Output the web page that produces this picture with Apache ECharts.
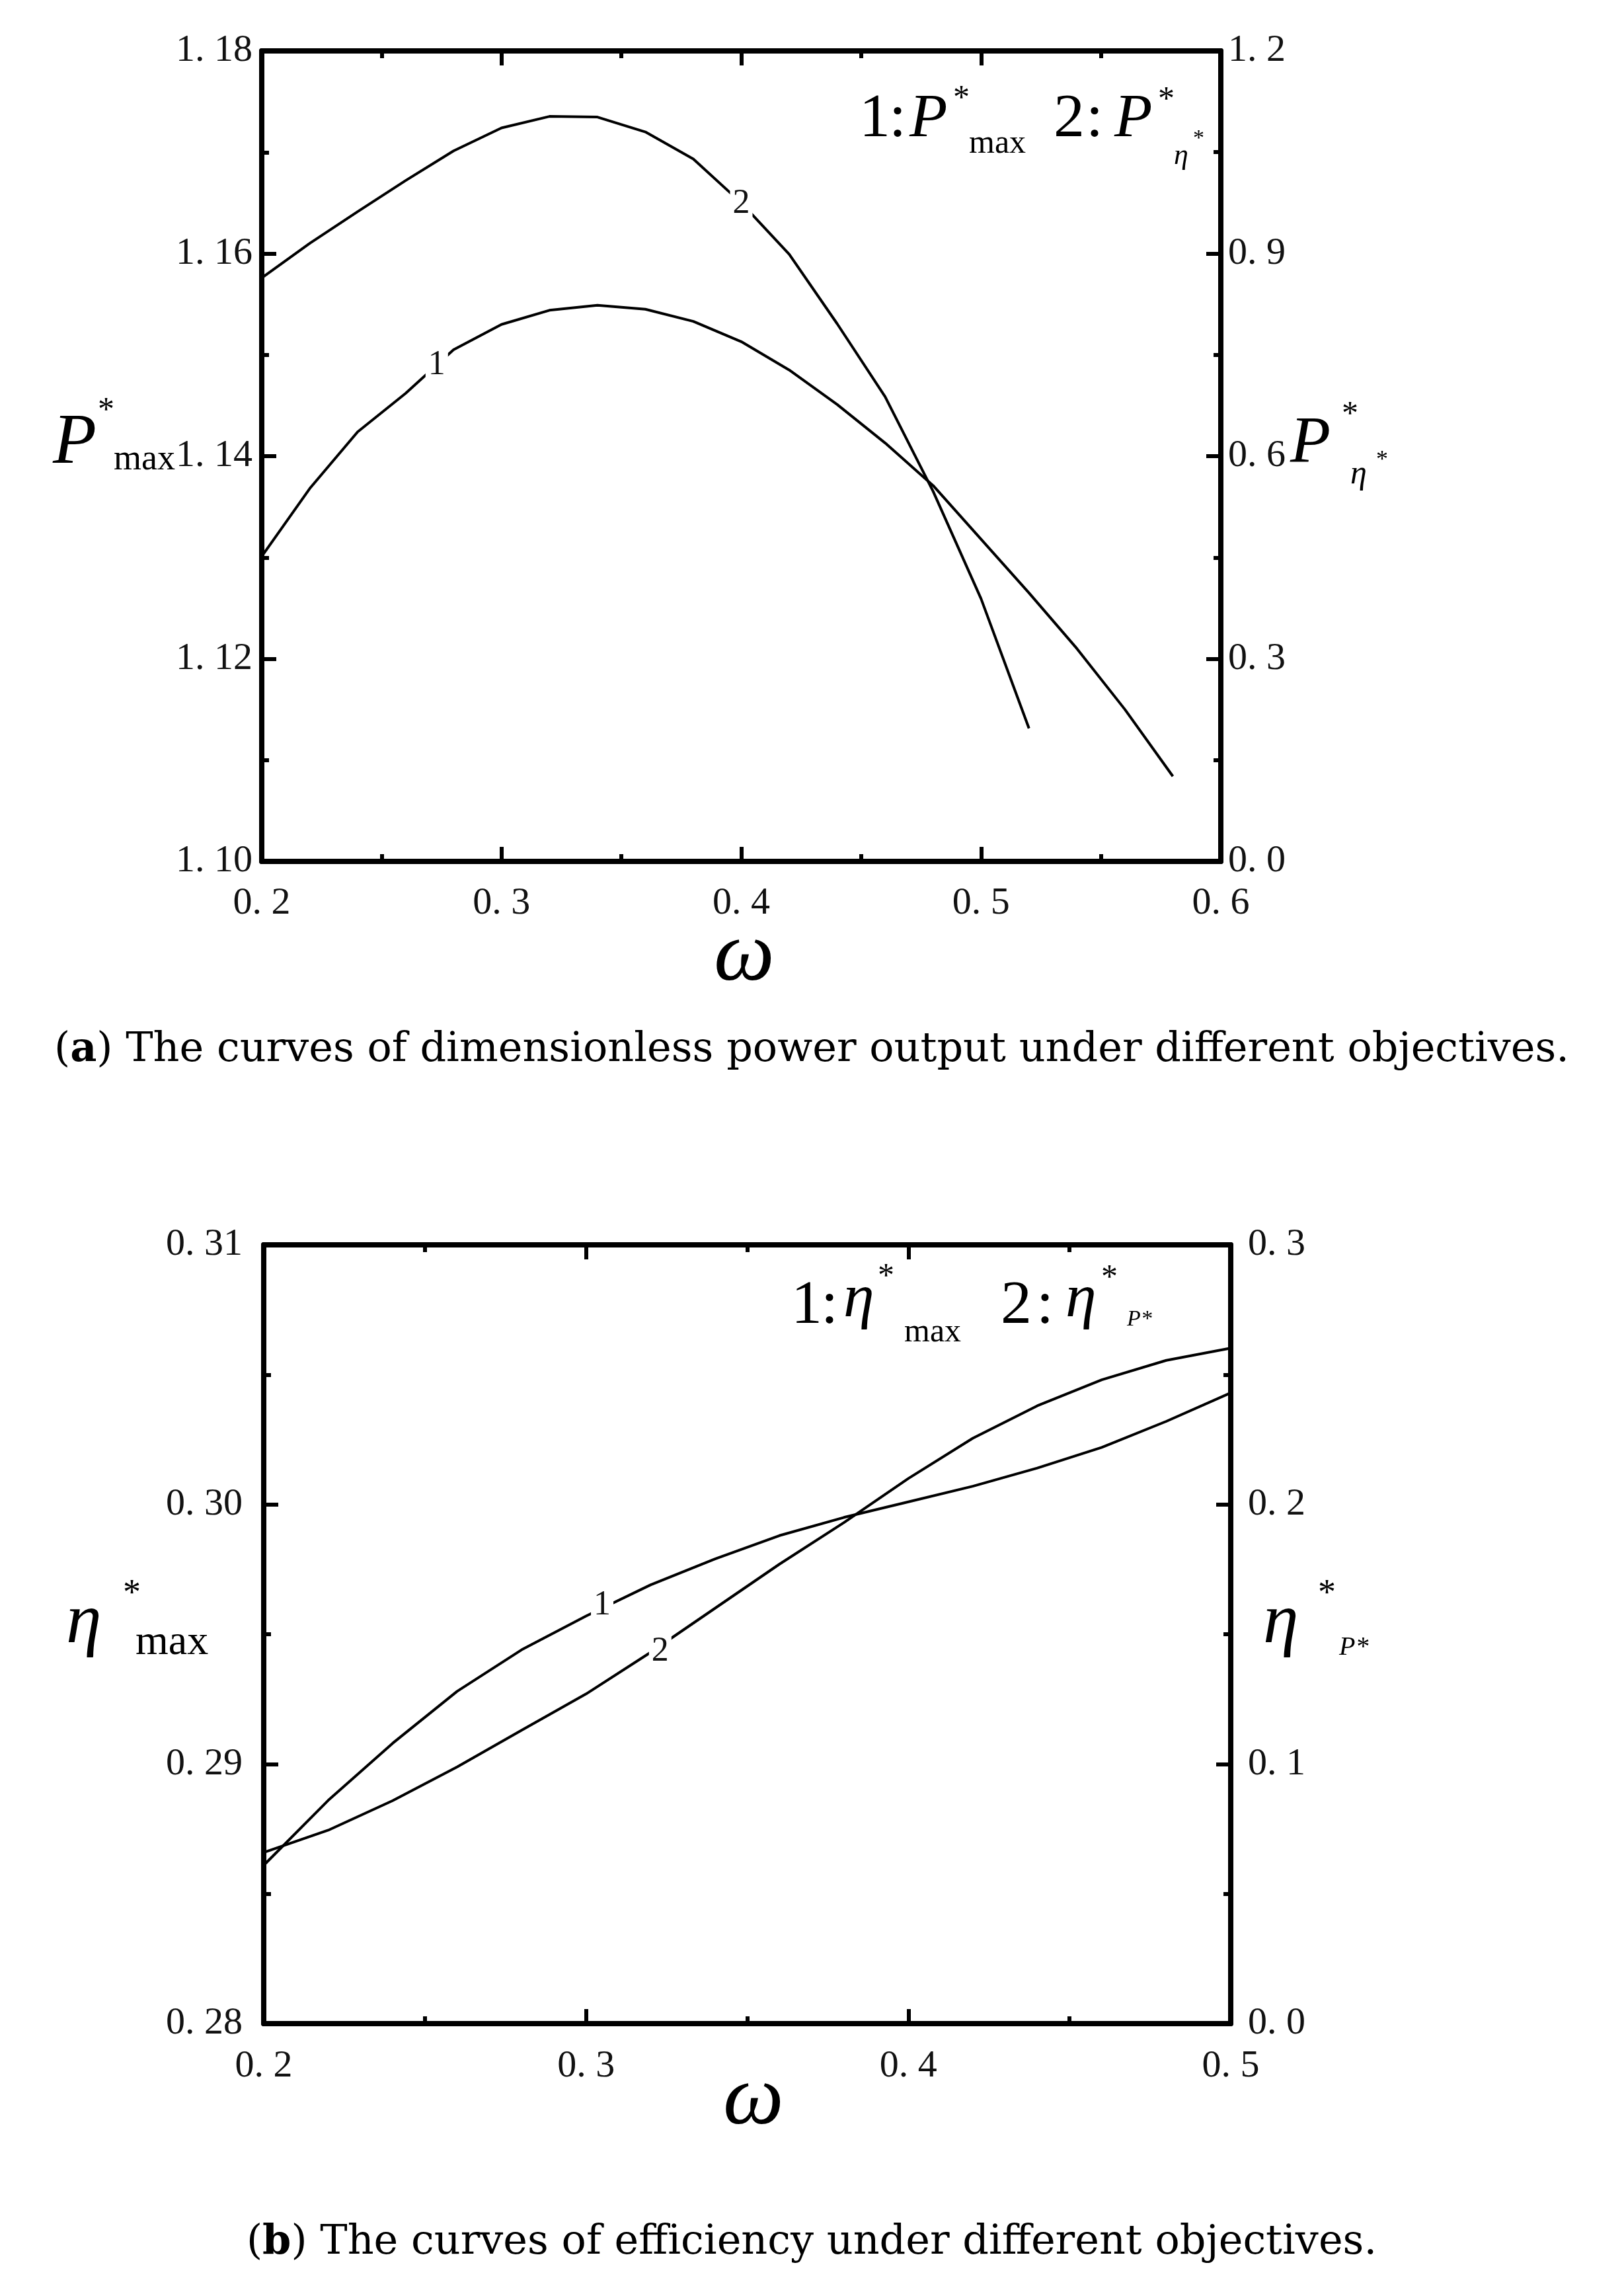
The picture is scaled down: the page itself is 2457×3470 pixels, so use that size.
<!DOCTYPE html>
<html>
<head>
<meta charset="utf-8">
<script src="https://cdn.jsdelivr.net/npm/echarts@6/dist/echarts.min.js"></script>
<style>
  html, body { margin: 0; padding: 0; background: #fff; }
  #main { width: 2457px; height: 3470px; }
</style>
</head>
<body>
<div id="main"></div>
<script>
// ---- data ----
// (a) dimensionless power output
var omegaA1 = [0.20, 0.22, 0.24, 0.26, 0.28, 0.30, 0.32, 0.34, 0.36, 0.38, 0.40, 0.42, 0.44, 0.46, 0.48, 0.50, 0.52, 0.54, 0.56, 0.58];
var pMax = [1.1301, 1.1368, 1.1424, 1.1462, 1.1505, 1.1530, 1.1544, 1.1549, 1.1545, 1.1533, 1.1513, 1.1485, 1.1451, 1.1413, 1.1371, 1.1318, 1.1265, 1.1210, 1.1150, 1.1084];
var omegaA2 = [0.20, 0.22, 0.24, 0.26, 0.28, 0.30, 0.32, 0.34, 0.36, 0.38, 0.40, 0.42, 0.44, 0.46, 0.48, 0.50, 0.52];
var pEta = [0.864, 0.915, 0.962, 1.008, 1.052, 1.086, 1.103, 1.102, 1.080, 1.040, 0.975, 0.899, 0.796, 0.688, 0.548, 0.389, 0.197];

// (b) efficiency
var omegaB = [0.20, 0.22, 0.24, 0.26, 0.28, 0.30, 0.32, 0.34, 0.36, 0.38, 0.40, 0.42, 0.44, 0.46, 0.48, 0.50];
var etaMax = [0.2861, 0.2886, 0.2908, 0.2928, 0.2944, 0.2957, 0.2969, 0.2979, 0.2988, 0.2995, 0.3001, 0.3007, 0.3014, 0.3022, 0.3032, 0.3043];
var etaP = [0.0659, 0.0745, 0.0859, 0.0989, 0.1130, 0.1270, 0.1430, 0.1600, 0.1770, 0.1930, 0.2100, 0.2255, 0.2380, 0.2480, 0.2555, 0.2602];

// curve number labels [x, y]
var labelA1 = [0.273, 1.149];
var labelA2 = [0.400, 0.974];
var labelB1 = [0.305, 0.2961];
var labelB2 = [0.323, 0.1434];

var SERIF = '"Liberation Serif", "DejaVu Serif", serif';
var CAPTION = '"DejaVu Serif", "Liberation Serif", serif';

function zip(xs, ys) {
    return xs.map(function (x, i) { return [x, ys[i]]; });
}

function fmt(digits) {
    return function (v) { return v.toFixed(digits).replace('.', '. '); };
}

function xAxisCfg(grid, min, max, pos, showLabel, margin) {
    return {
        type: 'value', gridIndex: grid, position: pos, min: min, max: max, interval: 0.1,
        axisLine: { show: true, onZero: false, lineStyle: { color: '#000', width: 8 } },
        axisTick: { show: true, inside: true, length: 22, lineStyle: { color: '#000', width: 6 } },
        minorTick: { show: true, splitNumber: 2, length: 11, lineStyle: { color: '#000', width: 6 } },
        axisLabel: { show: showLabel, formatter: fmt(1), fontFamily: SERIF, fontSize: 58, color: '#111', margin: margin },
        splitLine: { show: false }
    };
}

function yAxisCfg(grid, min, max, interval, pos, digits, margin, pad) {
    return {
        type: 'value', gridIndex: grid, position: pos, min: min, max: max, interval: interval,
        axisLine: { show: true, onZero: false, lineStyle: { color: '#000', width: 8 } },
        axisTick: { show: true, inside: true, length: 22, lineStyle: { color: '#000', width: 6 } },
        minorTick: { show: true, splitNumber: 2, length: 11, lineStyle: { color: '#000', width: 6 } },
        axisLabel: { formatter: fmt(digits), fontFamily: SERIF, fontSize: 58, color: '#111', margin: margin, padding: pad },
        splitLine: { show: false }
    };
}

function curveLabel(txt, coord) {
    return {
        symbol: 'rect', symbolSize: 0, silent: true,
        label: { show: true, position: 'inside', formatter: txt, fontFamily: SERIF, fontSize: 52, color: '#111', backgroundColor: '#fff', padding: [2, 4] },
        data: [{ coord: coord }]
    };
}

function lineSeries(xi, yi, data, mark) {
    return {
        type: 'line', xAxisIndex: xi, yAxisIndex: yi, data: data,
        showSymbol: false, smooth: false, animation: false,
        lineStyle: { color: '#000', width: 4 },
        markPoint: mark
    };
}

// text piece: left x, vertical middle y
function t(str, x, y, size, italic, extra) {
    var st = { text: str, x: x, y: y, font: (italic ? 'italic ' : '') + size + 'px ' + SERIF, fill: '#000', align: 'left', verticalAlign: 'middle' };
    if (extra) for (var k in extra) st[k] = extra[k];
    return { type: 'text', silent: true, style: st };
}

function caption(letter, rest, y) {
    return {
        type: 'text', silent: true,
        style: {
            text: '({b|' + letter + '}) ' + rest, x: 1228, y: y, align: 'center', verticalAlign: 'middle',
            font: '62px ' + CAPTION, fill: '#000',
            rich: { b: { fontWeight: 'bold', fontSize: 62, fontFamily: CAPTION } }
        }
    };
}

var texts = [
    // (a) legend
    t('1', 1300, 181, 94), t(':', 1345, 181, 94), t('P', 1376, 181, 94, true), t('*', 1442, 150, 50), t('max', 1466, 218, 50),
    t('2', 1594, 181, 94), t(':', 1643, 181, 94), t('P', 1686, 181, 94, true), t('*', 1752, 152, 50), t('η', 1776, 236, 44, true), t('*', 1805, 210, 34),
    // (a) axis titles
    t('P', 80, 672, 108, true), t('*', 148, 622, 50), t('max', 172, 696, 54),
    t('P', 1952, 672, 100, true), t('*', 2030, 628, 50), t('η', 2043, 718, 50, true), t('*', 2082, 697, 36),
    t('ω', 1126, 1448, 130, true, { align: 'center' }),
    caption('a', 'The curves of dimensionless power output under different objectives.', 1589),

    // (b) legend
    t('1', 1197, 1976, 94), t(':', 1242, 1976, 94), t('η', 1276, 1966, 94, true), t('*', 1328, 1932, 50), t('max', 1368, 2016, 50),
    t('2', 1514, 1976, 94), t(':', 1568, 1976, 94), t('η', 1612, 1966, 94, true), t('*', 1666, 1934, 50), t('P*', 1705, 1996, 34, true),
    // (b) axis titles
    t('η', 100, 2456, 108, true), t('*', 186, 2412, 54), t('max', 205, 2485, 64),
    t('η', 1911, 2456, 108, true), t('*', 1994, 2412, 54), t('P*', 2026, 2492, 40, true),
    t('ω', 1140, 3178, 130, true, { align: 'center' }),
    caption('b', 'The curves of efficiency under different objectives.', 3393)
];

var chart = echarts.init(document.getElementById('main'), null, { renderer: 'canvas' });

var option = {
    backgroundColor: '#fff',
    animation: false,
    grid: [
        { left: 396, top: 77, width: 1451, height: 1226 },
        { left: 399, top: 1883, width: 1463, height: 1178 }
    ],
    xAxis: [
        xAxisCfg(0, 0.2, 0.6, 'bottom', true, 35),
        xAxisCfg(0, 0.2, 0.6, 'top', false, 10),
        xAxisCfg(1, 0.2, 0.5, 'bottom', true, 36),
        xAxisCfg(1, 0.2, 0.5, 'top', false, 10)
    ],
    yAxis: [
        yAxisCfg(0, 1.10, 1.18, 0.02, 'left', 2, 14, [0, 0, 20, 0]),
        yAxisCfg(0, 0, 1.2, 0.3, 'right', 1, 11, [0, 0, 24, 0]),
        yAxisCfg(1, 0.28, 0.31, 0.01, 'left', 2, 32, 0),
        yAxisCfg(1, 0, 0.3, 0.1, 'right', 1, 26, 0)
    ],
    series: [
        lineSeries(0, 0, zip(omegaA1, pMax), curveLabel('1', labelA1)),
        lineSeries(0, 1, zip(omegaA2, pEta), curveLabel('2', labelA2)),
        lineSeries(2, 2, zip(omegaB, etaMax), curveLabel('1', labelB1)),
        lineSeries(2, 3, zip(omegaB, etaP), curveLabel('2', labelB2))
    ],
    graphic: texts
};

chart.setOption(option);
</script>
</body>
</html>
